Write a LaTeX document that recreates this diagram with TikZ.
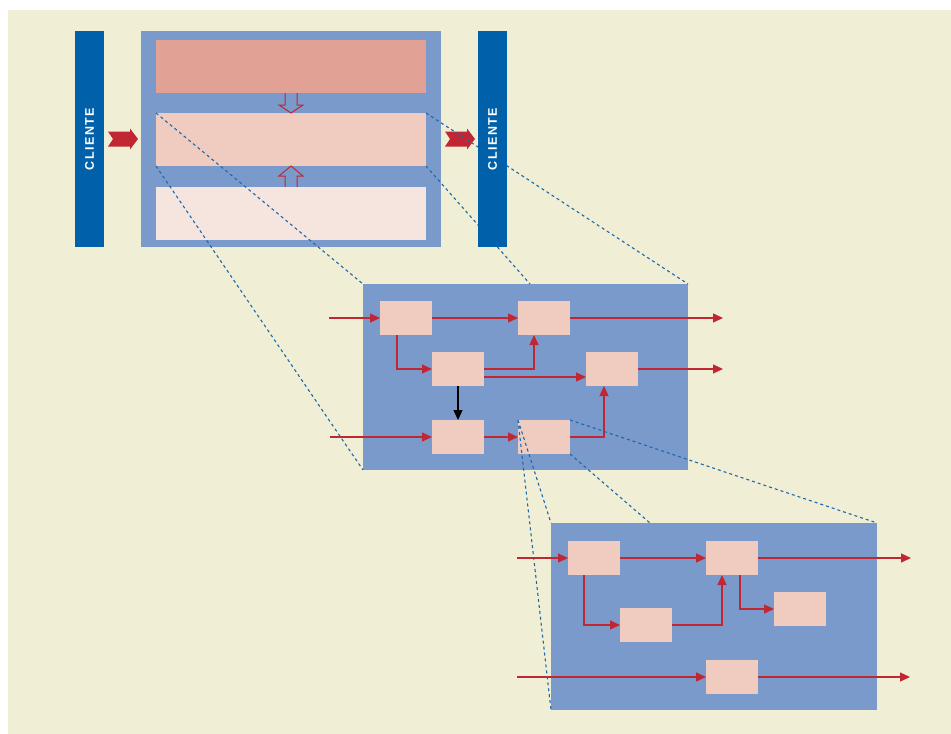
\documentclass[tikz,border=0pt]{standalone}
\usepackage{fontspec}
\newfontfamily\clientfont[LetterSpace=12]{Liberation Sans}
\usepackage{tikz}
\usetikzlibrary{positioning, arrows.meta, calc}
\definecolor{paper}{RGB}{240,238,213}
\definecolor{clientblue}{RGB}{0,97,170}
\definecolor{boxblue}{RGB}{122,154,203}
\definecolor{bandtop}{RGB}{225,161,149}
\definecolor{bandmid}{RGB}{240,203,192}
\definecolor{bandlow}{RGB}{246,229,223}
\definecolor{flowred}{RGB}{193,39,50}
\definecolor{cutblue}{RGB}{25,105,175}
\tikzset{
every node/.style={inner sep=0pt, outer sep=0pt},
level/.style={fill=boxblue, anchor=north west}, % the blue frames
band/.style={minimum width=270pt, minimum height=53pt},
task/.style={fill=bandmid, minimum width=52pt, minimum height=34pt}, % small boxes
flow/.style={draw=flowred, line width=1.3pt, -{Triangle[length=10pt,width=9pt]}}, % filled heads
hollow/.style={draw=flowred, line width=1pt},
chevron/.style={fill=flowred},
cut/.style={draw=cutblue, line width=1.1pt, dash pattern=on 3pt off 3pt}, % zoom lines
clientbar/.style={fill=clientblue, minimum width=29pt, minimum height=216pt, text=white,
  font=\clientfont\bfseries\fontsize{12.5pt}{12.5pt}\selectfont},
}
\begin{document}
\begin{tikzpicture}[x=1pt, y=-1pt]
    \useasboundingbox (0,0) rectangle (951,734);
    \fill[paper] (8,10) rectangle (951,734);

    % first level
    \node[level, minimum width=300pt, minimum height=216pt] (lvl1) at (141,31) {};
    \node[band, fill=bandtop, anchor=north west] (top) at (156,40) {};
    \node[band, fill=bandmid, below=20pt of top] (mid) {};
    \node[band, fill=bandlow, below=21pt of mid] (bot) {};
    \draw[hollow] ($(top.south)+(-6,0)$) -- ++(0,12) -- ++(-6,0) -- ++(12,8) -- ++(12,-8) -- ++(-6,0) -- ++(0,-12);
    \draw[hollow] ($(bot.north)+(-6,0)$) -- ++(0,-11) -- ++(-6,0) -- ++(12,-10) -- ++(12,10) -- ++(-6,0) -- ++(0,11);
    \fill[chevron] ($(lvl1.west)+(-28,0)$) -- ++(-5,-7.5) -- ++(22,0) -- ++(0,-3) -- ++(8,10.5) -- ++(-8,10.5) -- ++(0,-3) -- ++(-22,0) -- cycle;
    \fill[chevron] ($(lvl1.east)+(9,0)$) -- ++(-5,-7.5) -- ++(22,0) -- ++(0,-3) -- ++(8,10.5) -- ++(-8,10.5) -- ++(0,-3) -- ++(-22,0) -- cycle;

    % second level
    \node[level, minimum width=325pt, minimum height=186pt] (lvl2) at (363,284) {};
    \node[task, anchor=north west] (A) at (380,301) {};
    \node[task, right=86pt of A] (B) {};
    \node[task, below right=17pt and 0pt of A] (C) {};
    \node[task, right=102pt of C] (D) {};
    \node[task, below=34pt of C] (E) {};
    \node[task, right=34pt of E] (F) {};
    \coordinate (inA) at (329,318);
    \coordinate (outB) at (723,318);
    \coordinate (outD) at (723,369);
    \coordinate (inE) at (330,437);
    \path
        (inA) edge[flow] (A)
        (A) edge[flow] (B)
        (B) edge[flow] (outB)
        (D) edge[flow] (outD)
        (inE) edge[flow] (E)
        (E) edge[flow] (F)
        ;
    \draw[flow] ($(A.south west)+(17,0)$) |- (C);
    \draw[flow] (C.east) -| ($(B.south west)+(16,0)$);
    \draw[flow] ($(C.east)+(0,8)$) -- ($(D.west)+(0,8)$);
    \draw[flow] (F.east) -| ($(D.south west)+(18,0)$);
    \draw[flow, draw=black] (C) -- (E);

    % third level
    \node[level, minimum width=326pt, minimum height=187pt] (lvl3) at (551,523) {};
    \node[task, anchor=north west] (G) at (568,541) {};
    \node[task, right=86pt of G] (H) {};
    \node[task, below right=33pt and 0pt of G] (J) {};
    \node[task, below right=17pt and 16pt of H] (I) {};
    \node[task, below=85pt of H] (K) {};
    \coordinate (inG) at (517,558);
    \coordinate (outH) at (911,558);
    \coordinate (inK) at (517,677);
    \coordinate (outK) at (910,677);
    \path
        (inG) edge[flow] (G)
        (G) edge[flow] (H)
        (H) edge[flow] (outH)
        (inK) edge[flow] (K)
        (K) edge[flow] (outK)
        ;
    \draw[flow] ($(G.south west)+(16,0)$) |- (J);
    \draw[flow] (J.east) -| ($(H.south west)+(16,0)$);
    \draw[flow] ($(H.south)+(8,0)$) |- (I);

    % zoom lines
    \coordinate (lvl2cut) at (530,284);
    \coordinate (lvl3cut) at (650,523);
    \draw[cut]
        (mid.north west) -- (lvl2.north west)
        (mid.south west) -- (lvl2.south west)
        (mid.north east) -- (lvl2.north east)
        (mid.south east) -- (lvl2cut)
        (F.north west) -- (lvl3.north west)
        (F.north west) -- (lvl3.south west)
        (F.north east) -- (lvl3.north east)
        (F.south east) -- (lvl3cut)
        ;

    \node[clientbar, left=37pt of lvl1] (cl1) {\rotatebox{90}{CLIENTE}};
    \node[clientbar, right=37pt of lvl1] (cl2) {\rotatebox{90}{CLIENTE}};
\end{tikzpicture}
\end{document}
